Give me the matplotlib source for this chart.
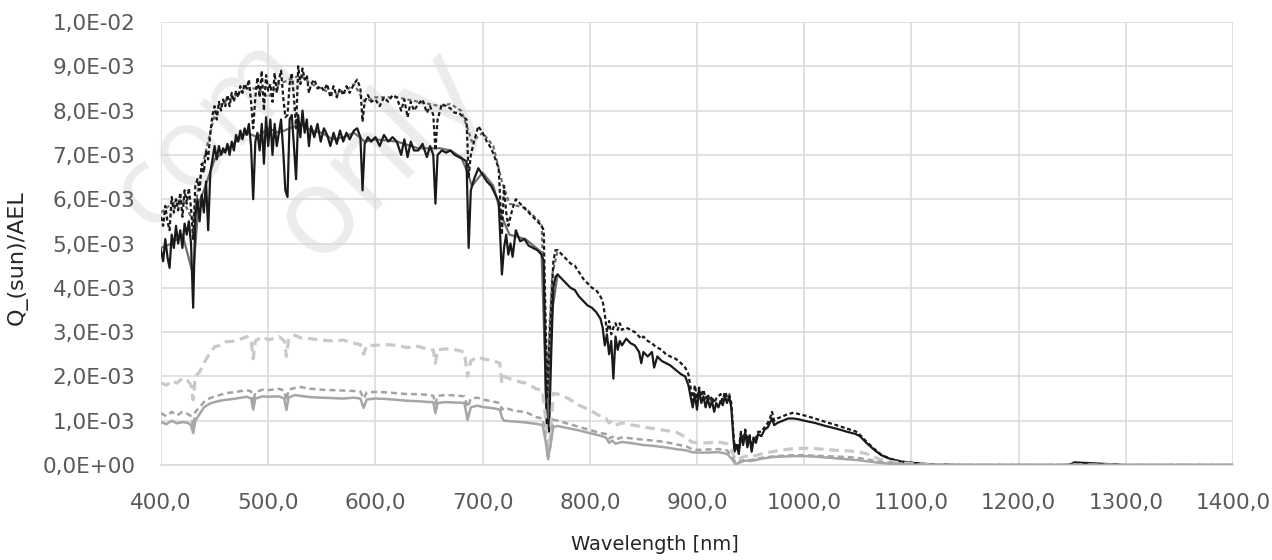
import matplotlib
matplotlib.use("Agg")
import matplotlib.pyplot as plt
from matplotlib.ticker import FuncFormatter, MultipleLocator

# values in units of 1E-03
UNIT = 1e-3

# black pair (solid + short dash), dense sampling for the absorption spikes
wl_top = [400, 402, 404, 406, 408, 410, 412, 414, 416, 418,
          420, 422, 424, 426, 428, 430, 432, 434, 436, 438,
          440, 442, 444, 446, 448, 450, 452, 454, 456, 458,
          460, 462, 464, 466, 468, 470, 472, 474, 476, 478,
          480, 482, 484, 486, 488, 490, 492, 494, 496, 498,
          500, 502, 504, 506, 508, 510, 512, 514, 516, 518,
          520, 522, 524, 526, 528, 530, 532, 534, 536, 538,
          540, 543, 546, 549, 552, 555, 558, 561, 564, 567,
          570, 573, 576, 580, 583, 586, 588, 590, 593, 596,
          600, 604, 608, 612, 616, 620, 624, 627, 630, 633,
          636, 640, 644, 648, 651, 654, 656, 658, 662, 666,
          670, 674, 678, 682, 685, 687, 689, 692, 696, 700,
          704, 708, 712, 715, 718, 720, 722, 724, 726, 728,
          731, 735, 739, 743, 747, 751, 755, 757, 759, 760,
          761, 762, 764, 766, 768, 770, 774, 778, 782, 786,
          790, 794, 798, 802, 806, 810, 812, 814, 816, 818,
          820, 822, 824, 826, 828, 830, 834, 838, 842, 846,
          848, 850, 854, 858, 860, 863, 867, 871, 875, 880,
          885, 889, 892, 894, 896, 898, 900, 902, 904, 906,
          908, 910, 912, 914, 916, 918, 920, 922, 924, 926,
          928, 930, 932, 934, 935, 937, 939, 941, 943, 945,
          947, 949, 951, 953, 955, 957, 960, 963, 966, 968,
          970, 972, 975, 980, 985, 990, 995, 1000, 1010, 1020,
          1030, 1040, 1048, 1052, 1058, 1065, 1072, 1080, 1090, 1100,
          1110, 1120, 1150, 1200, 1240, 1248, 1252, 1260, 1270, 1282,
          1300, 1400]

black_solid = [4.85, 4.6, 5.1, 4.7, 4.45, 5.2, 4.9, 5.4, 5.0, 5.3,
               4.9, 5.45, 5.2, 5.5, 5.0, 3.55, 5.6, 6.0, 5.5, 6.1,
               5.7, 6.4, 5.3, 6.6, 6.9, 7.2, 6.9, 7.2, 7.0, 7.15,
               7.05, 7.25, 7.0, 7.3, 7.1, 7.45, 7.3, 7.55, 7.35, 7.6,
               7.45, 7.7, 7.2, 6.0, 7.3, 7.5, 7.1, 7.7, 6.8, 7.85,
               7.2, 7.8, 7.0, 7.7, 7.2, 7.5, 7.8, 7.1, 6.2, 6.05,
               7.8, 7.9, 7.2, 6.45, 7.9, 7.4, 8.0, 7.5, 7.8, 7.2,
               7.65, 7.4, 7.7, 7.3, 7.6, 7.45, 7.2, 7.5, 7.25, 7.55,
               7.3, 7.5, 7.35, 7.55, 7.6, 7.4, 6.2, 7.25, 7.4, 7.3,
               7.4, 7.2, 7.45, 7.3, 7.4, 7.3, 7.0, 7.35, 6.95, 7.3,
               7.1, 7.1, 7.25, 6.95, 7.2, 7.0, 5.9, 7.0, 7.1, 7.05,
               7.1, 7.0, 6.95, 6.9, 6.85, 4.9, 6.2, 6.45, 6.7, 6.55,
               6.4, 6.3, 6.1, 5.95, 4.3, 4.9, 5.2, 4.75, 5.0, 4.7,
               5.3, 5.05, 5.1, 4.95, 4.9, 4.85, 4.75, 4.6, 1.5, 0.8,
               1.0, 0.75, 2.5, 4.0, 4.25, 4.3, 4.2, 4.1, 4.0, 3.95,
               3.8, 3.7, 3.6, 3.55, 3.45, 3.3, 3.1, 2.7, 2.95, 2.5,
               2.8, 1.95, 2.9, 2.6, 2.8, 2.7, 2.85, 2.75, 2.7, 2.55,
               2.3, 2.55, 2.45, 2.55, 2.2, 2.45, 2.35, 2.3, 2.25, 2.15,
               2.05, 2.0, 1.8, 1.55, 1.3, 1.6, 1.25, 1.7, 1.4, 1.55,
               1.3, 1.5, 1.3, 1.45, 1.2, 1.4, 1.3, 1.45, 1.35, 1.55,
               1.4, 1.55, 1.3, 0.6, 0.3, 0.45, 0.25, 0.7, 0.45, 0.75,
               0.4, 0.65, 0.3, 0.6, 0.5, 0.7, 0.65, 0.8, 0.85, 0.95,
               1.05, 0.9, 0.95, 1.0, 1.05, 1.05, 1.03, 1.0, 0.95, 0.88,
               0.82, 0.75, 0.7, 0.65, 0.5, 0.35, 0.22, 0.14, 0.08, 0.05,
               0.03, 0.01, 0.0, 0.0, 0.0, 0.01, 0.06, 0.05, 0.04, 0.02,
               0.0, 0.0]

black_dotted = [5.6, 5.4, 5.85, 5.5, 5.3, 6.05, 5.7, 6.0, 5.75, 6.15,
                5.6, 6.2, 5.9, 6.25, 5.8, 5.1, 6.3, 6.45, 6.2, 6.8,
                6.6, 7.1, 6.9, 7.5, 7.9, 8.1, 7.8, 8.2, 8.0, 8.25,
                8.1, 8.35, 8.1, 8.4, 8.2, 8.45, 8.3, 8.55, 8.4, 8.6,
                8.5, 8.7, 8.2, 7.6, 8.3, 8.75, 8.3, 8.9, 8.0, 8.8,
                8.45, 8.6, 8.2, 8.85, 8.4, 8.7, 8.9, 8.3, 7.85, 7.9,
                8.6, 8.85, 8.3, 7.6, 9.0, 8.6, 8.95, 8.7, 8.8, 8.4,
                8.6, 8.7, 8.5, 8.55, 8.45, 8.6, 8.3, 8.55, 8.3, 8.5,
                8.35, 8.55, 8.4, 8.6, 8.7, 8.5, 7.75, 8.2, 8.35, 8.2,
                8.25, 8.1, 8.3, 8.2, 8.35, 8.3, 8.0, 8.25, 7.85, 8.2,
                8.0, 8.15, 8.25, 7.95, 8.1, 7.9, 7.1, 7.8, 8.15, 8.1,
                8.05, 7.95, 7.95, 7.85, 7.8, 6.5, 7.0, 7.3, 7.65, 7.5,
                7.3, 7.15, 6.9, 6.7, 5.2, 6.3, 5.7, 5.4, 5.6, 5.8,
                6.0, 5.9, 5.8, 5.7, 5.6, 5.5, 5.4, 5.3, 3.0, 1.5,
                2.0, 2.6, 3.6, 4.6, 4.85, 4.85, 4.75, 4.65, 4.55, 4.5,
                4.35, 4.2, 4.1, 4.0, 3.95, 3.8, 3.7, 3.4, 3.0, 3.25,
                2.95, 3.1, 3.2, 3.05, 3.2, 3.05, 3.1, 3.05, 3.0, 2.9,
                2.85, 2.9, 2.8, 2.75, 2.7, 2.65, 2.6, 2.5, 2.45, 2.4,
                2.3, 2.2, 2.05, 1.75, 1.45, 1.8, 1.5, 1.75, 1.55, 1.7,
                1.5, 1.6, 1.45, 1.55, 1.4, 1.5, 1.55, 1.6, 1.45, 1.65,
                1.55, 1.6, 1.4, 0.7, 0.4, 0.5, 0.35, 0.75, 0.5, 0.8,
                0.55, 0.7, 0.4, 0.65, 0.6, 0.75, 0.75, 0.85, 0.95, 1.05,
                1.2, 1.0, 1.05, 1.1, 1.15, 1.18, 1.15, 1.12, 1.05, 0.97,
                0.9, 0.82, 0.76, 0.68, 0.53, 0.37, 0.23, 0.14, 0.08, 0.05,
                0.03, 0.01, 0.0, 0.0, 0.0, 0.01, 0.03, 0.03, 0.02, 0.01,
                0.0, 0.0]

# dark grey pair, visible only where the black curves spike below it
wl_dark = [400, 410, 420, 430, 435, 440, 450, 460, 470, 480,
           490, 500, 510, 520, 530, 540, 550, 560, 570, 580,
           590, 600, 620, 640, 660, 670, 680, 686, 690, 700,
           710, 718, 725, 740, 755, 760, 765, 770]
dark_solid = [4.9, 5.0, 5.2, 4.3, 5.9, 6.2, 6.9, 7.1, 7.3, 7.5,
              7.4, 7.6, 7.5, 7.6, 7.7, 7.55, 7.5, 7.35, 7.4, 7.5,
              7.3, 7.35, 7.3, 7.15, 7.15, 7.1, 6.95, 6.6, 6.3, 6.6,
              6.3, 5.6, 5.2, 5.1, 4.8, 1.0, 3.5, 4.3]
dark_dotted = [5.7, 5.9, 6.0, 5.5, 6.3, 6.9, 7.9, 8.2, 8.35, 8.5,
               8.5, 8.3, 8.6, 8.7, 8.8, 8.6, 8.5, 8.35, 8.4, 8.6,
               8.2, 8.3, 8.3, 8.2, 8.1, 8.15, 8.0, 7.6, 7.3, 7.5,
               7.2, 6.4, 5.9, 5.8, 5.45, 2.0, 4.3, 4.85]

# three lower grey curves
wl_low = [400, 405, 410, 415, 420, 425, 428, 430, 432, 436,
          440, 445, 450, 455, 460, 470, 480, 484, 486, 488,
          495, 500, 510, 515, 517, 519, 525, 530, 540, 550,
          560, 570, 580, 586, 589, 592, 600, 610, 620, 630,
          640, 650, 654, 656, 658, 665, 675, 683, 686, 689,
          695, 700, 710, 716, 718, 720, 730, 740, 750, 756,
          759, 761, 763, 766, 770, 780, 790, 800, 810, 815,
          818, 821, 824, 830, 840, 850, 860, 870, 880, 890,
          895, 900, 910, 920, 928, 932, 936, 940, 945, 950,
          960, 970, 980, 990, 1000, 1010, 1020, 1030, 1040, 1050,
          1060, 1070, 1080, 1090, 1100, 1120, 1150, 1200, 1300, 1400]

light_dashed = [1.85, 1.8, 1.9, 1.85, 1.96, 1.9, 1.8, 1.47, 2.0, 2.1,
                2.3, 2.5, 2.67, 2.7, 2.78, 2.8, 2.9, 2.85, 2.4, 2.8,
                2.9, 2.82, 2.9, 2.8, 2.45, 2.85, 2.93, 2.87, 2.85, 2.82,
                2.8, 2.82, 2.75, 2.72, 2.5, 2.7, 2.7, 2.72, 2.7, 2.65,
                2.68, 2.6, 2.6, 2.3, 2.6, 2.62, 2.6, 2.55, 2.0, 2.35,
                2.44, 2.4, 2.35, 2.3, 1.85, 2.0, 1.9, 1.85, 1.72, 1.68,
                1.0, 0.2, 0.6, 1.62, 1.6, 1.5, 1.35, 1.24, 1.1, 1.05,
                0.95, 1.0, 0.9, 0.95, 0.9, 0.86, 0.82, 0.78, 0.75, 0.62,
                0.52, 0.5, 0.5, 0.52, 0.48, 0.35, 0.11, 0.15, 0.2, 0.18,
                0.25, 0.3, 0.34, 0.37, 0.38, 0.37, 0.35, 0.33, 0.32, 0.3,
                0.24, 0.13, 0.08, 0.05, 0.03, 0.01, 0.0, 0.0, 0.0, 0.0]

gray_dashed = [1.17, 1.1, 1.2, 1.12, 1.2, 1.15, 1.1, 0.86, 1.2, 1.3,
               1.42, 1.5, 1.55, 1.58, 1.62, 1.65, 1.69, 1.66, 1.4, 1.65,
               1.7, 1.69, 1.72, 1.68, 1.45, 1.7, 1.74, 1.76, 1.72, 1.7,
               1.69, 1.68, 1.67, 1.66, 1.5, 1.64, 1.65, 1.64, 1.62, 1.6,
               1.6, 1.58, 1.56, 1.38, 1.56, 1.58, 1.57, 1.55, 1.3, 1.5,
               1.52, 1.48, 1.43, 1.4, 1.25, 1.3, 1.22, 1.2, 1.08, 1.05,
               0.6, 0.1, 0.4, 1.02, 1.0, 0.93, 0.86, 0.79, 0.72, 0.7,
               0.6, 0.64, 0.58, 0.62, 0.6, 0.57, 0.55, 0.52, 0.47, 0.42,
               0.36, 0.34, 0.35, 0.36, 0.33, 0.22, 0.05, 0.08, 0.12, 0.11,
               0.16, 0.19, 0.21, 0.22, 0.22, 0.21, 0.2, 0.19, 0.18, 0.16,
               0.12, 0.07, 0.05, 0.03, 0.02, 0.01, 0.0, 0.0, 0.0, 0.0]

gray_solid = [0.97, 0.92, 1.0, 0.94, 0.97, 0.95, 0.9, 0.72, 1.0, 1.15,
              1.3, 1.38, 1.42, 1.45, 1.47, 1.5, 1.54, 1.5, 1.25, 1.5,
              1.55, 1.54, 1.55, 1.5, 1.24, 1.52, 1.58, 1.56, 1.53, 1.52,
              1.51, 1.5, 1.52, 1.5, 1.29, 1.48, 1.5, 1.49, 1.47, 1.45,
              1.44, 1.42, 1.42, 1.17, 1.4, 1.42, 1.41, 1.4, 1.02, 1.3,
              1.34, 1.31, 1.28, 1.25, 1.08, 1.0, 0.98, 0.96, 0.93, 0.9,
              0.5, 0.17, 0.4, 0.86, 0.88, 0.83, 0.78, 0.72, 0.66, 0.62,
              0.5, 0.55, 0.48, 0.52, 0.49, 0.45, 0.43, 0.4, 0.36, 0.33,
              0.29, 0.28, 0.28, 0.29, 0.25, 0.15, 0.02, 0.06, 0.1, 0.09,
              0.14, 0.18, 0.19, 0.2, 0.2, 0.19, 0.17, 0.15, 0.13, 0.11,
              0.08, 0.05, 0.03, 0.02, 0.01, 0.0, 0.0, 0.0, 0.0, 0.0]


def scaled(vals):
    return [v * UNIT for v in vals]


plt.rcParams['font.family'] = ['DejaVu Sans']

fig = plt.figure(figsize=(12.72, 5.6), dpi=100)
ax = fig.add_axes([161 / 1272, 95 / 560, 1072 / 1272, 443 / 560])

# watermark, sits under the grid
wm = dict(transform=fig.transFigure, rotation=45, rotation_mode='anchor',
          ha='left', va='baseline', color='#ececec',
          family='Open Sans', zorder=0.2, clip_on=False)
ax.text(0.118, 0.585, 'com', fontsize=80, **wm)
ax.text(0.248, 0.528, 'only', fontsize=88, **wm)

ax.plot(wl_dark, scaled(dark_solid), color='#6e6e6e', lw=1.6, zorder=2)
ax.plot(wl_dark, scaled(dark_dotted), color='#6e6e6e', lw=1.6,
        linestyle=(0, (1.8, 1.2)), zorder=2)
ax.plot(wl_top, scaled(black_solid), color='#1a1a1a', lw=1.6, zorder=3)
ax.plot(wl_top, scaled(black_dotted), color='#1a1a1a', lw=1.6,
        linestyle=(0, (1.8, 1.2)), zorder=3)
ax.plot(wl_low, scaled(light_dashed), color='#c9c9c9', lw=2.3,
        linestyle=(0, (3.0, 1.8)), zorder=4)
ax.plot(wl_low, scaled(gray_dashed), color='#a3a3a3', lw=1.8,
        linestyle=(0, (2.4, 1.6)), zorder=4)
ax.plot(wl_low, scaled(gray_solid), color='#a6a6a6', lw=1.8, zorder=4)

ax.set_xlim(400, 1400)
ax.set_ylim(0, 0.01)
ax.xaxis.set_major_locator(MultipleLocator(100))
ax.yaxis.set_major_locator(MultipleLocator(0.001))
ax.xaxis.set_major_formatter(FuncFormatter(lambda v, p: f"{v:.1f}".replace('.', ',')))
ax.yaxis.set_major_formatter(FuncFormatter(lambda v, p: f"{v:.1E}".replace('.', ',')))

ax.set_axisbelow(True)
ax.grid(True, color='#d9d9d9', lw=1.1)
for side in ('top', 'right', 'left'):
    ax.spines[side].set_visible(False)
ax.spines['bottom'].set_color('#d9d9d9')
ax.spines['bottom'].set_linewidth(1.1)

ax.tick_params(axis='both', length=0, labelsize=15.5, labelcolor='#595959')
ax.tick_params(axis='y', pad=18.5)
ax.tick_params(axis='x', pad=20)

ax.set_xlabel('Wavelength [nm]', fontsize=14, color='#262626')
ax.xaxis.set_label_coords(0.461, -0.158)
ax.set_ylabel('Q_(sun)/AEL', fontsize=16, color='#262626')
ax.yaxis.set_label_coords(-0.124, 0.467)

fig.savefig('out.png', dpi=100)
